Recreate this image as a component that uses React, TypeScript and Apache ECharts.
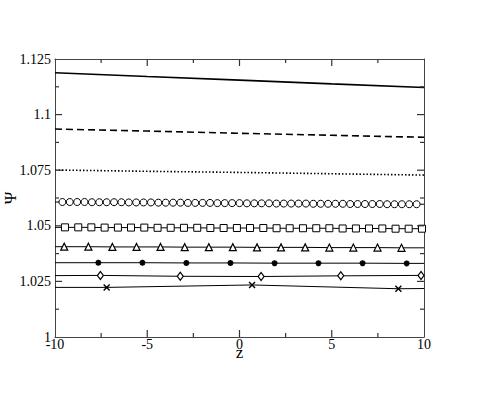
import React, { useEffect, useRef } from "react";
import * as echarts from "echarts";

// ---- data ----
const xTicks = [-10, -5, 0, 5, 10];
const yTickLabels = ["1", "1.025", "1.05", "1.075", "1.1", "1.125"];
const xMajorTicks = [-5, 0, 5];
const xMinorTicks = [-7.5, -2.5, 2.5, 7.5];
const yMajorTicks = [1.025, 1.05, 1.075, 1.1];
const yMinorTicks = [1.0125, 1.0375, 1.0625, 1.0875, 1.1125];

const solidZ = [-10, -5, 0, 5, 10];
const solidVals = [1.1188, 1.1171, 1.1155, 1.1138, 1.1122];

const dashedZ = [-10, -5, 0, 5, 10];
const dashedVals = [1.0935, 1.0926, 1.0916, 1.0907, 1.0898];

const dottedZ = [-10, -5, 0, 5, 10];
const dottedVals = [1.0751, 1.0745, 1.074, 1.0734, 1.0728];

const circleZ = [
  -10, -9.6, -9.2, -8.8, -8.4, -8.0, -7.6, -7.2, -6.8, -6.4, -6.0, -5.6, -5.2, -4.8, -4.4, -4.0, -3.6,
  -3.2, -2.8, -2.4, -2.0, -1.6, -1.2, -0.8, -0.4, 0, 0.4, 0.8, 1.2, 1.6, 2.0, 2.4, 2.8, 3.2, 3.6, 4.0,
  4.4, 4.8, 5.2, 5.6, 6.0, 6.4, 6.8, 7.2, 7.6, 8.0, 8.4, 8.8, 9.2, 9.6, 10,
];
const circleVals = [
  1.0607, 1.0607, 1.0607, 1.0607, 1.0607, 1.0606, 1.0606, 1.0606, 1.0606, 1.0606, 1.0605,
  1.0605, 1.0605, 1.0605, 1.0604, 1.0604, 1.0604, 1.0604, 1.0603, 1.0603, 1.0603,
  1.0603, 1.0602, 1.0602, 1.0602, 1.0602, 1.0601, 1.0601, 1.0601, 1.0601, 1.06,
  1.06, 1.06, 1.06, 1.06, 1.0599, 1.0599, 1.0599, 1.0599, 1.0599, 1.0598,
  1.0598, 1.0598, 1.0598, 1.0598, 1.0597, 1.0597, 1.0597, 1.0597, 1.0597, 1.0597,
];

const squareZ = [
  -10, -9.46, -8.74, -8.03, -7.31, -6.59, -5.88, -5.16, -4.44, -3.73, -3.01, -2.29, -1.58, -0.86, -0.14,
  0.57, 1.29, 2.01, 2.72, 3.44, 4.16, 4.87, 5.59, 6.31, 7.02, 7.74, 8.46, 9.17, 9.89, 10,
];
const squareVals = [
  1.0493, 1.0493, 1.0493, 1.0493, 1.0492, 1.0492, 1.0492, 1.0492, 1.0491, 1.0491, 1.0491,
  1.0491, 1.049, 1.049, 1.049, 1.049, 1.049, 1.0489, 1.0489, 1.0489, 1.0489,
  1.0489, 1.0488, 1.0488, 1.0488, 1.0488, 1.0487, 1.0487, 1.0487, 1.0487,
];

const triangleZ = [
  -10, -9.5, -8.19, -6.89, -5.58, -4.28, -2.97, -1.66, -0.36, 0.95, 2.25, 3.56, 4.87, 6.17, 7.48, 8.78, 10,
];
const triangleVals = [
  1.0406, 1.0406, 1.0406, 1.0405, 1.0405, 1.0405, 1.0404, 1.0404, 1.0404, 1.0403, 1.0403,
  1.0403, 1.0402, 1.0402, 1.0402, 1.0401, 1.0401,
];

const starZ = [-10, -7.65, -5.26, -2.88, -0.49, 1.9, 4.28, 6.67, 9.06, 10];
const starVals = [1.0334, 1.0334, 1.0334, 1.0333, 1.0333, 1.0332, 1.0332, 1.0332, 1.0331, 1.0331];

const diamondZ = [-10, -7.54, -3.21, 1.17, 5.49, 9.84, 10];
const diamondVals = [1.0276, 1.0277, 1.0273, 1.0272, 1.0275, 1.0277, 1.0277];

const crossZ = [-10, -7.2, 0.68, 8.61, 10];
const crossVals = [1.0223, 1.0223, 1.0234, 1.0217, 1.0218];

// ---- layout & styling ----
const FONT = "'Liberation Serif', 'Times New Roman', serif";
const AXIS_COLOR = "#444";
const TICK_COLOR = "#333";
const GRID = { left: 55, top: 59, width: 369, height: 278 };
const X_MIN = -10, X_MAX = 10, Y_MIN = 1, Y_MAX = 1.125;
const MAJOR_LEN = 7;
const MINOR_LEN = 4;

const CROSS = "path://M0,0L10,10M10,0L0,10";
const STAR = "path://M5,0L5,10M0,5L10,5M1.5,1.5L8.5,8.5M8.5,1.5L1.5,8.5";

type Curve = {
  z: number[];
  v: number[];
  symbol: string;
  size: any;
  width: number;
  type: any;
  fill: string;
  border: number;
};

const curves: Curve[] = [
  { z: solidZ, v: solidVals, symbol: "none", size: 0, width: 1.6, type: "solid", fill: "#000", border: 0 },
  { z: dashedZ, v: dashedVals, symbol: "none", size: 0, width: 1.6, type: [7, 4], fill: "#000", border: 0 },
  { z: dottedZ, v: dottedVals, symbol: "none", size: 0, width: 1.6, type: [1.5, 2], fill: "#000", border: 0 },
  { z: circleZ, v: circleVals, symbol: "circle", size: 7, width: 1, type: "solid", fill: "#fff", border: 1 },
  { z: squareZ, v: squareVals, symbol: "rect", size: 7, width: 1, type: "solid", fill: "#fff", border: 1 },
  { z: triangleZ, v: triangleVals, symbol: "triangle", size: 7, width: 1, type: "solid", fill: "#fff", border: 1.2 },
  { z: starZ, v: starVals, symbol: STAR, size: 6, width: 1, type: "solid", fill: "#000", border: 1.8 },
  { z: diamondZ, v: diamondVals, symbol: "diamond", size: [6, 8], width: 1, type: "solid", fill: "#fff", border: 1.2 },
  { z: crossZ, v: crossVals, symbol: CROSS, size: 6, width: 1, type: "solid", fill: "#000", border: 1.4 },
];

export default function App() {
  const ref = useRef<HTMLDivElement>(null);

  useEffect(() => {
    if (!ref.current) return;
    const chart = echarts.init(ref.current, undefined, { renderer: "svg" });

    const series: any[] = curves.map((c) => ({
      type: "line",
      xAxisIndex: 0,
      yAxisIndex: 0,
      symbol: c.symbol,
      symbolSize: c.size,
      showSymbol: c.symbol !== "none",
      clip: false,
      lineStyle: { color: "#000", width: c.width, type: c.type },
      itemStyle: { color: c.fill, borderColor: "#000", borderWidth: c.border },
      emphasis: { disabled: true },
      data: c.z.map((z, i) => {
        const item: any = { value: [z, c.v[i]] };
        if (z === -10 || z === 10) item.symbol = "none";
        return item;
      }),
      z: 3,
    }));

    // inward tick marks on all four sides, as tiny line series in data units
    const dxPerPx = (X_MAX - X_MIN) / GRID.width;
    const dyPerPx = (Y_MAX - Y_MIN) / GRID.height;
    const tickSeries = (pts: number[][]) => ({
      type: "line",
      xAxisIndex: 0,
      yAxisIndex: 0,
      symbol: "none",
      silent: true,
      clip: false,
      z: 5,
      lineStyle: { color: TICK_COLOR, width: 1.2 },
      data: pts,
    });
    const addX = (v: number, len: number) => {
      const d = len * dyPerPx;
      series.push(tickSeries([[v, Y_MIN], [v, Y_MIN + d]]));
      series.push(tickSeries([[v, Y_MAX], [v, Y_MAX - d]]));
    };
    const addY = (v: number, len: number) => {
      const d = len * dxPerPx;
      series.push(tickSeries([[X_MIN, v], [X_MIN + d, v]]));
      series.push(tickSeries([[X_MAX, v], [X_MAX - d, v]]));
    };
    xMajorTicks.forEach((v) => addX(v, MAJOR_LEN));
    xMinorTicks.forEach((v) => addX(v, MINOR_LEN));
    yMajorTicks.forEach((v) => addY(v, MAJOR_LEN));
    yMinorTicks.forEach((v) => addY(v, MINOR_LEN));

    const axisBase = () => ({
      type: "value",
      axisLine: { show: true, onZero: false, lineStyle: { color: AXIS_COLOR, width: 1 } },
      splitLine: { show: false },
      axisTick: { show: false },
      minorTick: { show: false },
    });

    chart.setOption({
      animation: false,
      backgroundColor: "#fff",
      textStyle: { fontFamily: FONT },
      grid: { ...GRID, containLabel: false, outerBoundsMode: "none" },
      xAxis: [
        {
          ...axisBase(),
          position: "bottom",
          min: X_MIN,
          max: X_MAX,
          interval: 5,
          axisLabel: {
            color: "#000",
            fontFamily: FONT,
            fontSize: 14,
            margin: 0,
            formatter: (v: number) => (xTicks.includes(v) ? String(v) : ""),
          },
          name: "z",
          nameLocation: "middle",
          nameGap: 7,
          nameMoveOverlap: false,
          nameTextStyle: { color: "#000", fontFamily: FONT, fontSize: 17 },
        },
        {
          ...axisBase(),
          position: "top",
          min: X_MIN,
          max: X_MAX,
          interval: 5,
          axisLabel: { show: false },
        },
      ],
      yAxis: [
        {
          ...axisBase(),
          position: "left",
          min: Y_MIN,
          max: Y_MAX,
          interval: 0.025,
          axisLabel: {
            color: "#000",
            fontFamily: FONT,
            fontSize: 14,
            margin: 4,
            formatter: (v: number) => yTickLabels[Math.round((v - 1) / 0.025)] ?? "",
          },
          name: "Ψ",
          nameLocation: "middle",
          nameRotate: 90,
          nameGap: 36,
          nameMoveOverlap: false,
          nameTextStyle: { color: "#000", fontFamily: FONT, fontSize: 17 },
        },
        {
          ...axisBase(),
          position: "right",
          min: Y_MIN,
          max: Y_MAX,
          interval: 0.025,
          axisLabel: { show: false },
        },
      ],
      series,
    } as any);

    return () => chart.dispose();
  }, []);

  return (
    <div
      ref={ref}
      style={{ position: "absolute", left: 0, top: 0, width: 491, height: 409, background: "#fff" }}
    />
  );
}
